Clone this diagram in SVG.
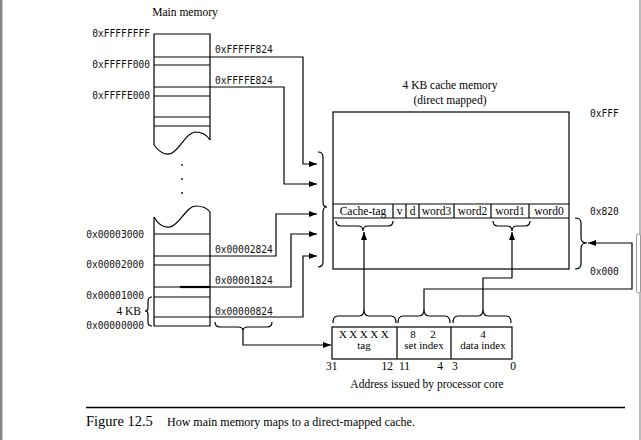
<svg xmlns="http://www.w3.org/2000/svg" width="641" height="440" viewBox="0 0 641 440">
<style>
.ln{fill:none;stroke:#000;stroke-width:1.2}
.mono{font-family:"DejaVu Sans Mono",monospace;font-size:9.6px;fill:#111}
.serif{font-family:"Liberation Serif",serif;font-size:11.5px;fill:#000}
.sm{font-size:11px}
.mid{text-anchor:middle}
.end{text-anchor:end}
</style>
<defs>
<marker id="ah" viewBox="0 0 8 6" refX="8" refY="3" markerWidth="8" markerHeight="6" markerUnits="userSpaceOnUse" orient="auto">
<path d="M0,0 L8,3 L0,6 z" fill="#000"/>
</marker>
</defs>
<rect x="0" y="0" width="641" height="440" fill="#fff"/>
<rect x="0" y="0" width="2" height="440" fill="#888"/>
<rect x="2" y="0" width="1" height="440" fill="#ccc"/>
<rect x="639" y="0" width="2" height="440" fill="#bbb"/>
<rect x="636.5" y="234" width="4" height="59" rx="2" fill="#fff" stroke="#999" stroke-width="1"/>

<g id="main-memory">
<text class="serif mid" x="185" y="16">Main memory</text>
<path class="ln" d="M154,145 V34 H210 V140"/>
<path class="ln" d="M154,145 C160,153 166,156 172,153 C180,149 186,133 195,132 C202,132 207,135 210,140"/>
<path class="ln" d="M154,57 H210 M154,65 H210 M154,87 H210 M154,96 H210 M154,117 H210 M154,126 H210"/>
<circle cx="182" cy="165" r="0.9" fill="#000"/>
<circle cx="182" cy="179" r="0.9" fill="#000"/>
<circle cx="182" cy="193" r="0.9" fill="#000"/>
<path class="ln" d="M154,217 C158,224 164,228 170,227 C180,225 186,206 196,206 C203,206 207,208 210,212"/>
<path class="ln" d="M154,217 V326 H210 V212"/>
<path class="ln" d="M154,234 H210 M154,256 H210 M154,265 H210 M154,287 H210 M154,297 H210 M154,317 H210"/>
<line x1="180" y1="287" x2="210" y2="287" stroke="#000" stroke-width="2.2"/>
<text class="mono end" x="150" y="37">0xFFFFFFFF</text>
<text class="mono end" x="150" y="68">0xFFFFF000</text>
<text class="mono end" x="150" y="99">0xFFFFE000</text>
<text class="mono end" x="144" y="238">0x00003000</text>
<text class="mono end" x="144" y="268">0x00002000</text>
<text class="mono end" x="144" y="299">0x00001000</text>
<text class="serif end" x="141" y="315">4 KB</text>
<text class="mono end" x="144" y="329">0x00000000</text>
<path class="ln" d="M152,297 Q148,297 148,301 L148,308 Q148,311 145,311 Q148,311 148,314 L148,322 Q148,326 152,326"/>
<text class="mono" x="215" y="53">0xFFFFF824</text>
<text class="mono" x="215" y="84">0xFFFFE824</text>
<text class="mono" x="215" y="253">0x00002824</text>
<text class="mono" x="215" y="284">0x00001824</text>
<text class="mono" x="215" y="315">0x00000824</text>
<path class="ln" d="M215,322 Q215,327 220,327 L238,327 Q243,327 243,331 Q243,327 248,327 L267,327 Q272,327 272,322"/>
</g>

<g id="cache-memory">
<text class="serif mid" x="450" y="89">4 KB cache memory</text>
<text class="serif mid" x="450" y="104">(direct mapped)</text>
<rect class="ln" x="333" y="112" width="236" height="157"/>
<path class="ln" d="M333,204 H569 M333,218 H569 M393,204 V218 M406,204 V218 M419,204 V218 M454,204 V218 M491,204 V218 M529,204 V218"/>
<text class="serif mid" x="363" y="215">Cache-tag</text>
<text class="serif mid" x="399.5" y="215">v</text>
<text class="serif mid" x="412.5" y="215">d</text>
<text class="serif mid" x="436.5" y="215">word3</text>
<text class="serif mid" x="472.5" y="215">word2</text>
<text class="serif mid" x="510" y="215">word1</text>
<text class="serif mid" x="549" y="215">word0</text>
<text class="mono" x="590" y="117">0xFFF</text>
<text class="mono" x="590" y="215">0x820</text>
<text class="mono" x="590" y="275">0x000</text>
<path class="ln" d="M318,152 Q323,152 323,157 L323,202 Q323,207 327,207 Q323,207 323,212 L323,262 Q323,267 318,267"/>
<path class="ln" d="M575,218 Q581,218 581,223 L581,238 Q581,243 587,243 Q581,243 581,248 L581,264 Q581,269 575,269"/>
<path class="ln" d="M336,221 Q336,226 341,226 L358,226 Q363,226 363,231 Q363,226 368,226 L388,226 Q393,226 393,221"/>
<path class="ln" d="M493,221 Q493,226 498,226 L507,226 Q512,226 512,231 Q512,226 517,226 L525,226 Q530,226 530,221"/>
</g>

<g id="address">
<rect class="ln" x="332" y="327" width="180" height="32"/>
<path class="ln" d="M397,327 V359 M451,327 V359"/>
<path class="ln" d="M333,323 Q333,316 338,316 L359,316 Q364,316 364,309 Q364,316 369,316 L391,316 Q396,316 396,323"/>
<path class="ln" d="M398,323 Q398,316 403,316 L419,316 Q424,316 424,309 Q424,316 429,316 L445,316 Q450,316 450,323"/>
<path class="ln" d="M453,323 Q453,316 458,316 L478,316 Q483,316 483,309 Q483,316 488,316 L506,316 Q511,316 511,323"/>
<text class="serif sm mid" x="365" y="337.5" letter-spacing="2.5">XXXXX</text>
<text class="serif sm mid" x="364" y="349">tag</text>
<text class="serif sm mid" x="413" y="337.5">8</text>
<text class="serif sm mid" x="433" y="337.5">2</text>
<text class="serif sm mid" x="424" y="349">set index</text>
<text class="serif sm mid" x="483" y="337.5">4</text>
<text class="serif sm mid" x="483" y="349">data index</text>
<text class="serif" x="326" y="370">31</text>
<text class="serif end" x="393" y="370">12</text>
<text class="serif" x="399" y="370">11</text>
<text class="serif end" x="443" y="370">4</text>
<text class="serif" x="452" y="370">3</text>
<text class="serif end" x="516" y="370">0</text>
<text class="serif mid" x="427" y="388">Address issued by processor core</text>
</g>

<g id="connectors">
<path class="ln" marker-end="url(#ah)" d="M210,57 H303 V164 H317"/>
<path class="ln" marker-end="url(#ah)" d="M210,87 H284 V184 H317"/>
<path class="ln" marker-end="url(#ah)" d="M210,256 H276 V214 H317"/>
<path class="ln" marker-end="url(#ah)" d="M210,287 H291 V234 H317"/>
<path class="ln" marker-end="url(#ah)" d="M210,317 H303 V256 H317"/>
<path class="ln" marker-end="url(#ah)" d="M243,331 V345 H331"/>
<path class="ln" marker-end="url(#ah)" d="M364,309 V232"/>
<path class="ln" marker-end="url(#ah)" d="M483,309 V278 H512 V232"/>
<path class="ln" marker-end="url(#ah)" d="M424,309 V289 H632 V243 H588"/>
</g>

<g id="caption">
<line x1="86" y1="407.5" x2="625" y2="407.5" stroke="#000" stroke-width="1.3"/>
<text x="86" y="426" font-family="Liberation Serif, serif" font-size="14.5px">Figure 12.5</text>
<text x="167" y="426" font-family="Liberation Serif, serif" font-size="12px">How main memory maps to a direct-mapped cache.</text>
</g>
</svg>
